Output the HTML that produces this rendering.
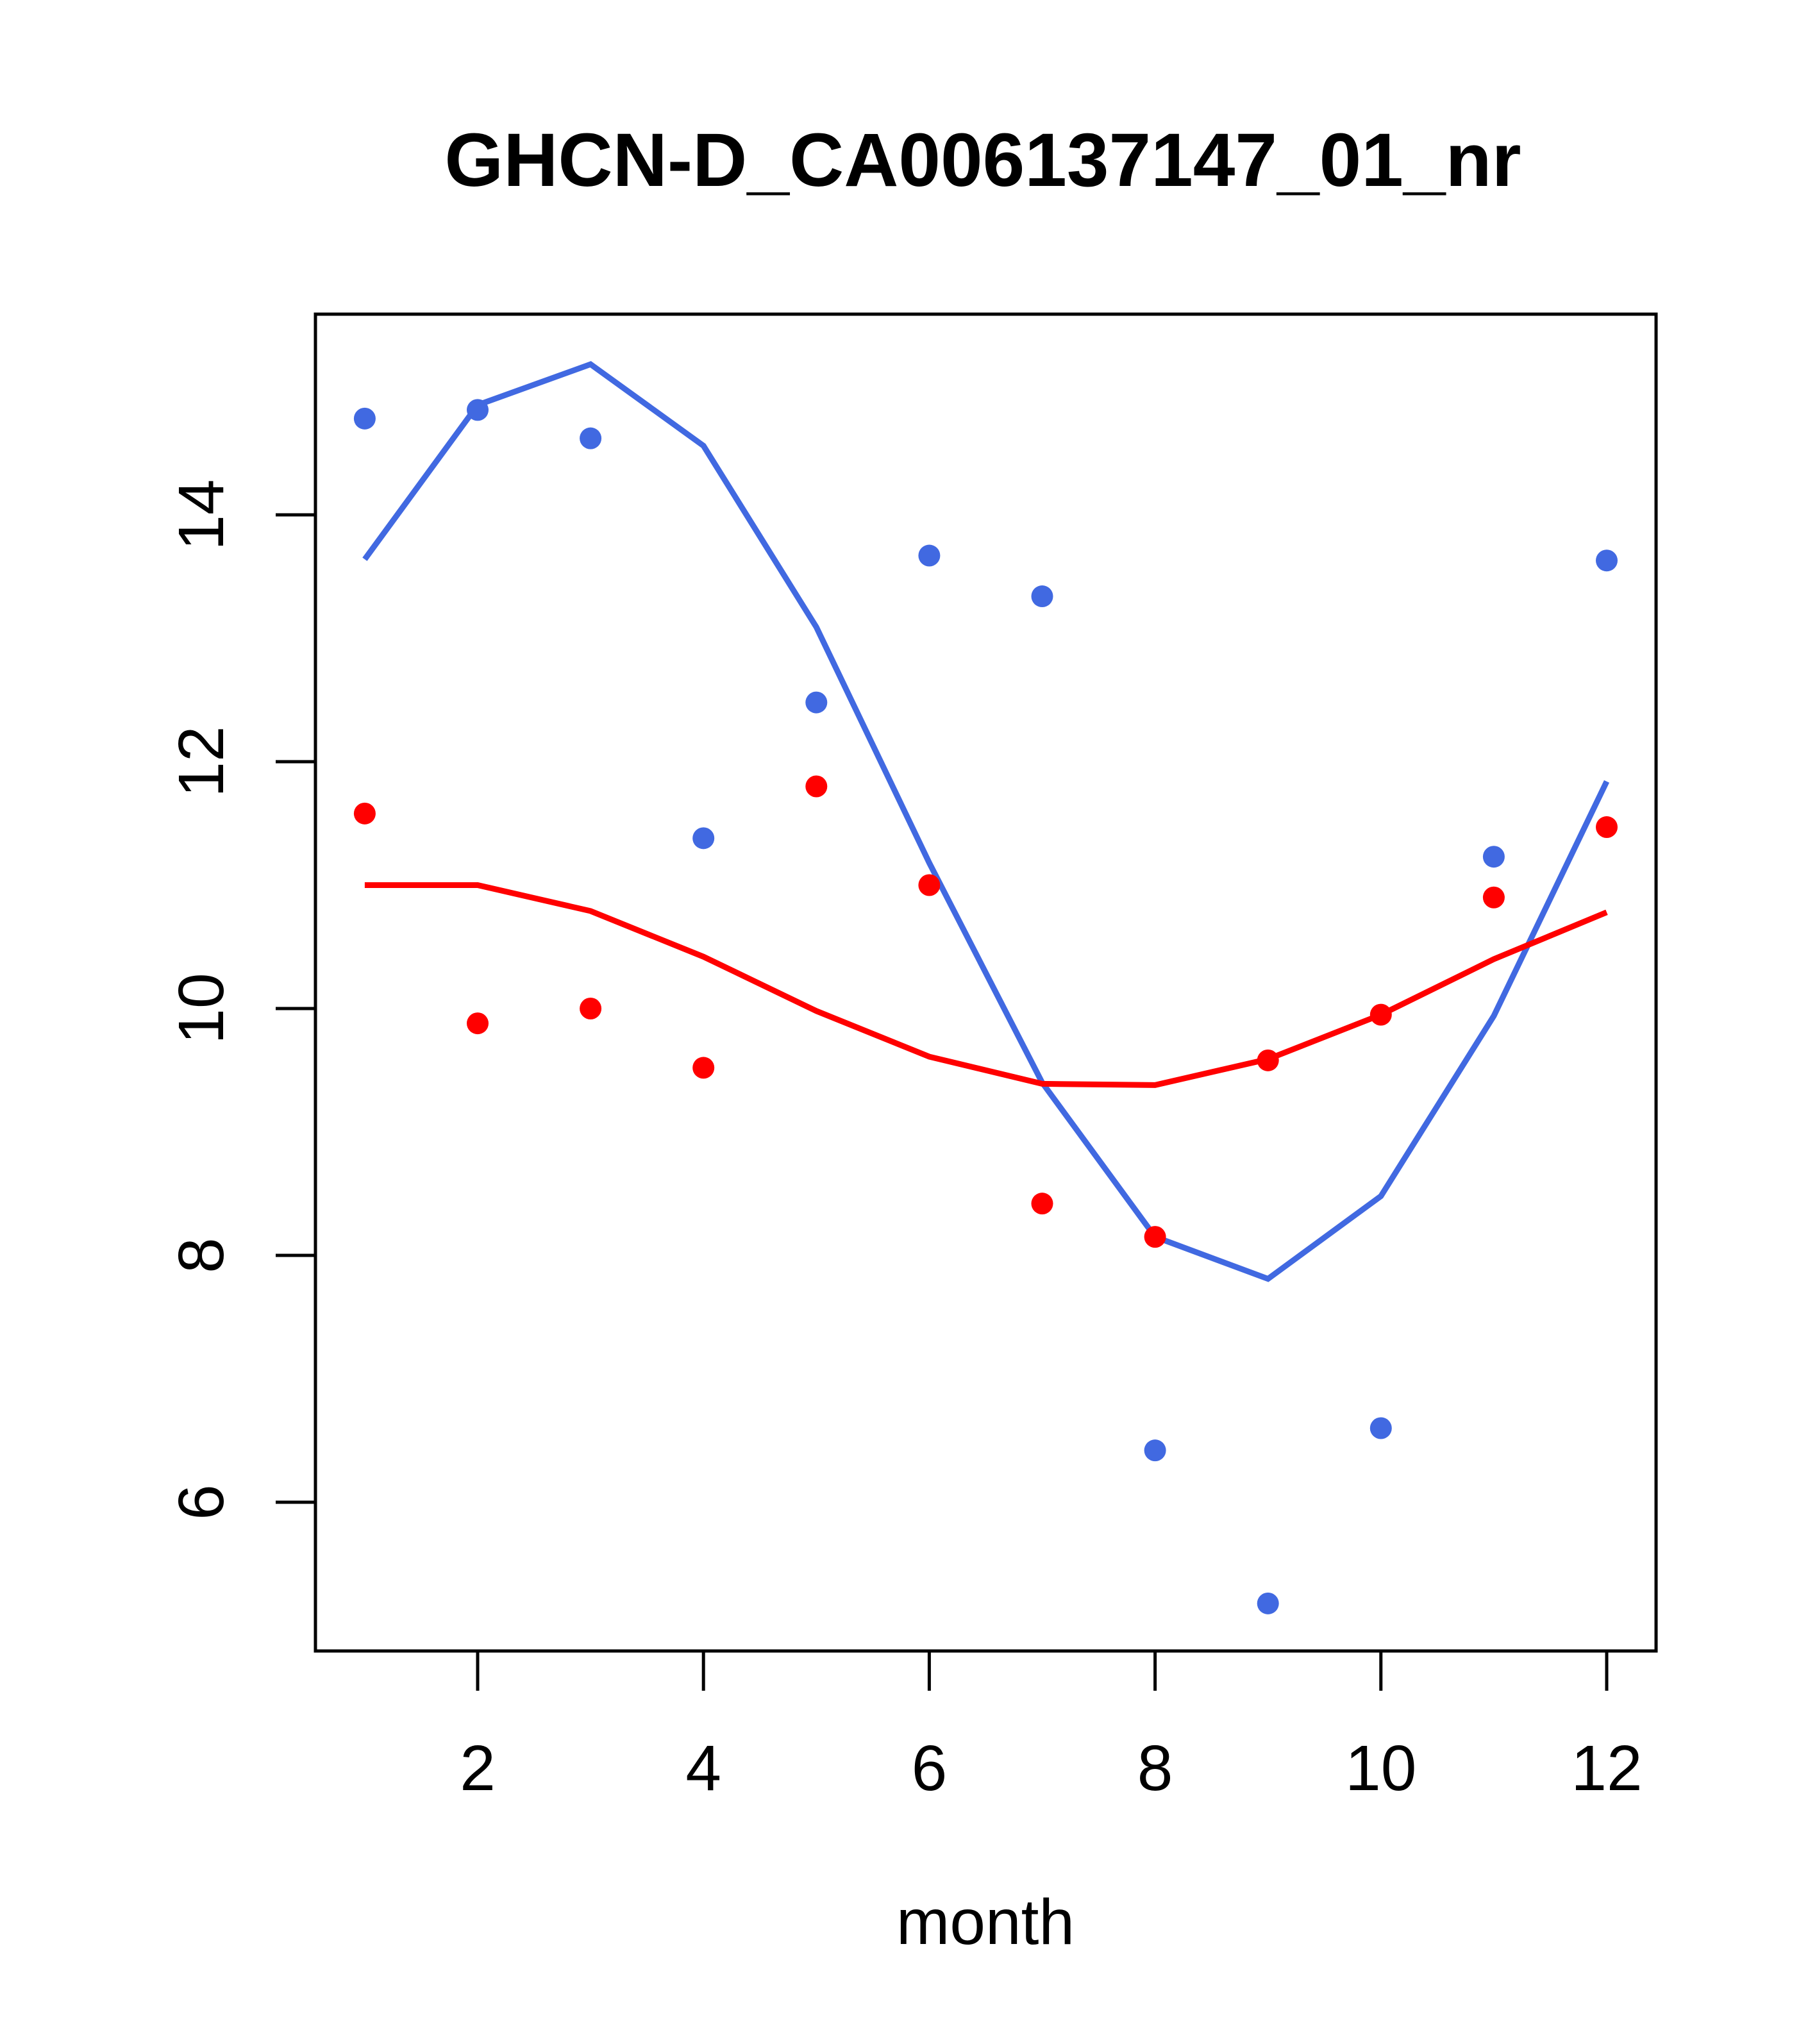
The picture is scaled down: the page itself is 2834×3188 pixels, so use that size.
<!DOCTYPE html>
<html><head><meta charset="utf-8"><style>body{margin:0;background:#fff}svg{display:block}text{font-family:"Liberation Sans",Arial,sans-serif}</style></head>
<body>
<svg id="chart" width="2834" height="3188" viewBox="0 0 2834 3188" xmlns="http://www.w3.org/2000/svg">
<rect width="2834" height="3188" fill="#fff"/>
<text x="1533" y="290" font-size="118" font-weight="bold" text-anchor="middle">GHCN-D_CA006137147_01_nr</text>
<rect x="492" y="490" width="2091" height="2085" fill="none" stroke="#000" stroke-width="5"/>
<g id="xaxis"></g>
<g id="yaxis"></g>
<text x="1537" y="3032" font-size="100" text-anchor="middle">month</text>
<g id="series"></g>
</svg>
<script>
const months=[1,2,3,4,5,6,7,8,9,10,11,12];
const bluePoints=[14.78,14.85,14.62,11.38,12.48,13.67,13.34,6.42,5.18,6.6,11.23,13.63];
const redPoints=[11.58,9.88,10.0,9.52,11.8,11.0,8.42,8.15,9.58,9.95,10.9,11.47];
const blueLine=[13.64,14.89,15.22,14.56,13.09,11.18,9.4,8.15,7.81,8.48,9.94,11.84];
const redLine=[11.0,11.0,10.79,10.42,9.98,9.61,9.39,9.38,9.59,9.95,10.4,10.78];
const xTicks=[2,4,6,8,10,12];
const yTicks=[6,8,10,12,14];
const NS="http://www.w3.org/2000/svg";
function X(m){return 745+(m-2)*176.1;}
function Y(v){return 803+(14-v)*192.5;}
function mk(t,a,p){const e=document.createElementNS(NS,t);for(const k in a)e.setAttribute(k,a[k]);p.appendChild(e);return e;}
const xa=document.getElementById('xaxis'),ya=document.getElementById('yaxis'),s=document.getElementById('series');
xTicks.forEach(t=>{
 const l=mk('line',{x1:X(t),x2:X(t),y1:2575,y2:2637,stroke:'#000','stroke-width':5},xa);
 
 
 const tx=mk('text',{x:X(t),y:2792,'font-size':100,'text-anchor':'middle'},xa);tx.textContent=t;
 
 
});
yTicks.forEach(t=>{
 const l=mk('line',{x1:430,x2:492,y1:Y(t),y2:Y(t),stroke:'#000','stroke-width':5},ya);
 
 
 const tx=mk('text',{x:0,y:0,'font-size':100,'text-anchor':'middle',transform:`translate(348,${Y(t)}) rotate(-90)`},ya);tx.textContent=t;
 
 
});
function line(vals,col,name){
 const p=mk('polyline',{points:vals.map((v,i)=>X(months[i])+','+Y(v)).join(' '),fill:'none',stroke:col,'stroke-width':9},s);
 
 
}
function pts(vals,col,name){
 vals.forEach((v,i)=>{const c=mk('circle',{cx:X(months[i]),cy:Y(v),r:17,fill:col},s);
 
 });
}
line(blueLine,'#4169E1','blue-fit-line');
line(redLine,'#FF0000','red-fit-line');
pts(bluePoints,'#4169E1','blue-point');
pts(redPoints,'#FF0000','red-point');
</script>
</body></html>
